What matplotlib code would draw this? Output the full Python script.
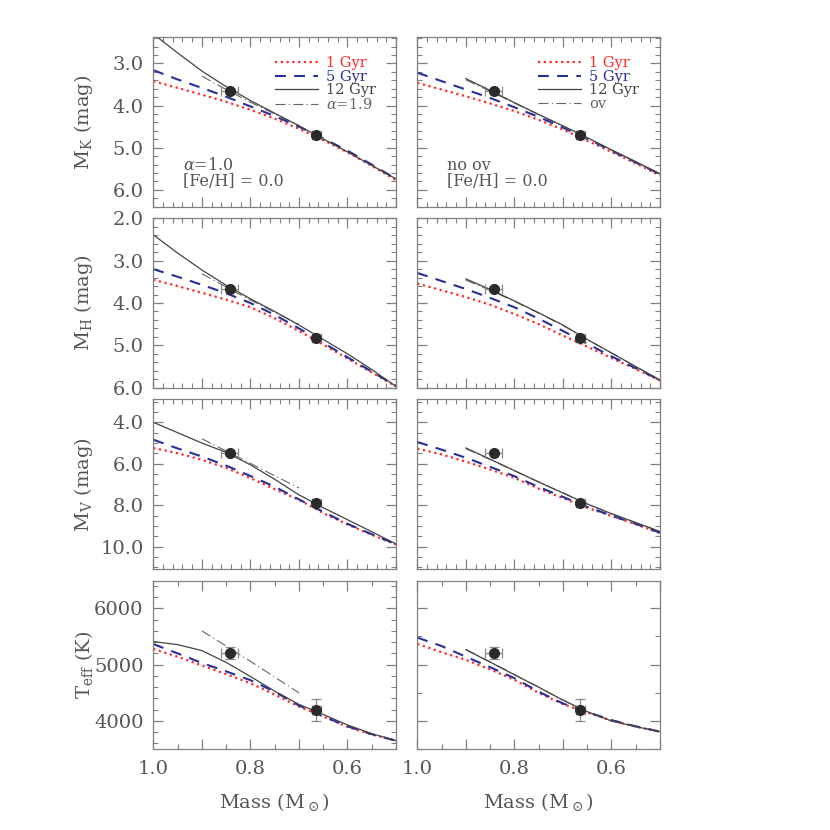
import matplotlib
matplotlib.use("Agg")
import matplotlib.pyplot as plt
from matplotlib.ticker import MultipleLocator, FixedLocator, FuncFormatter, FormatStrFormatter

plt.rcParams['font.family'] = ['DejaVu Serif']
plt.rcParams['mathtext.fontset'] = 'dejavuserif'

# ---------------- data ----------------
mass = [1.00, 0.95, 0.90, 0.85, 0.80, 0.75, 0.70, 0.65, 0.60, 0.55, 0.50]
mass_a19 = [0.90, 0.85, 0.80, 0.75, 0.70]
mass_ov = [0.90, 0.85, 0.80, 0.75, 0.70, 0.65, 0.60, 0.55, 0.50]

# left column (alpha = 1.0)
mk_1 = [3.42, 3.58, 3.74, 3.91, 4.10, 4.31, 4.55, 4.82, 5.11, 5.43, 5.77]
mk_5 = [3.16, 3.38, 3.58, 3.79, 4.02, 4.25, 4.50, 4.78, 5.07, 5.40, 5.74]
mk_12 = [2.30, 2.75, 3.18, 3.55, 3.88, 4.18, 4.48, 4.79, 5.10, 5.42, 5.74]
mk_a19 = [3.30, 3.62, 3.92, 4.20, 4.47]

mh_1 = [3.45, 3.60, 3.76, 3.92, 4.10, 4.36, 4.66, 4.98, 5.31, 5.64, 5.97]
mh_5 = [3.20, 3.38, 3.57, 3.77, 4.00, 4.28, 4.60, 4.94, 5.28, 5.62, 5.96]
mh_12 = [2.39, 2.82, 3.22, 3.58, 3.90, 4.20, 4.52, 4.86, 5.20, 5.57, 5.97]
mh_a19 = [3.31, 3.62, 3.93, 4.22, 4.50]

mv_1 = [5.24, 5.49, 5.81, 6.20, 6.69, 7.23, 7.74, 8.38, 8.93, 9.43, 9.90]
mv_5 = [4.84, 5.26, 5.65, 6.09, 6.59, 7.11, 7.72, 8.32, 8.90, 9.40, 9.88]
mv_12 = [4.00, 4.50, 5.00, 5.45, 6.05, 6.75, 7.50, 8.12, 8.70, 9.28, 9.87]
mv_a19 = [4.79, 5.39, 5.98, 6.58, 7.17]

t_1 = [5280, 5140, 4985, 4830, 4670, 4470, 4255, 4080, 3895, 3760, 3650]
t_5 = [5365, 5200, 5030, 4880, 4725, 4520, 4275, 4085, 3905, 3765, 3650]
t_12 = [5410, 5355, 5250, 5040, 4790, 4530, 4295, 4115, 3930, 3775, 3650]
t_a19 = [5600, 5330, 5060, 4780, 4500]

# right column (no overshoot vs overshoot)
mk_1r = [3.46, 3.62, 3.78, 3.95, 4.13, 4.34, 4.57, 4.83, 5.10, 5.37, 5.66]
mk_5r = [3.22, 3.42, 3.62, 3.82, 4.04, 4.27, 4.52, 4.79, 5.07, 5.35, 5.63]
mk_12r = [3.36, 3.64, 3.93, 4.21, 4.48, 4.76, 5.05, 5.33, 5.62]
mk_ovr = [3.39, 3.66, 3.94, 4.22, 4.49, 4.77, 5.06, 5.34, 5.62]

mh_1r = [3.54, 3.70, 3.86, 4.04, 4.26, 4.50, 4.77, 5.03, 5.30, 5.56, 5.83]
mh_5r = [3.29, 3.48, 3.67, 3.88, 4.10, 4.37, 4.66, 4.96, 5.26, 5.54, 5.82]
mh_12r = [3.43, 3.68, 3.95, 4.23, 4.52, 4.86, 5.18, 5.50, 5.82]
mh_ovr = [3.46, 3.70, 3.96, 4.24, 4.53, 4.86, 5.18, 5.50, 5.82]

mv_1r = [5.27, 5.55, 5.90, 6.28, 6.68, 7.20, 7.66, 8.12, 8.52, 8.92, 9.35]
mv_5r = [4.95, 5.32, 5.71, 6.15, 6.60, 7.12, 7.60, 8.08, 8.50, 8.90, 9.33]
mv_12r = [5.24, 5.78, 6.33, 6.88, 7.41, 7.94, 8.41, 8.84, 9.27]
mv_ovr = [5.27, 5.80, 6.34, 6.88, 7.41, 7.94, 8.41, 8.84, 9.27]

t_1r = [5370, 5220, 5085, 4915, 4730, 4500, 4300, 4150, 4010, 3900, 3810]
t_5r = [5480, 5330, 5140, 4955, 4760, 4520, 4310, 4160, 4015, 3905, 3810]
t_12r = [5265, 5045, 4820, 4600, 4370, 4165, 4000, 3900, 3810]
t_ovr = [5270, 5050, 4825, 4600, 4370, 4165, 4000, 3900, 3810]

# observed binary components
obs_mass = [0.843, 0.664]
obs_mass_err = [0.017, 0.009]
obs_mk = [3.65, 4.70]
obs_mk_err = [0.05, 0.05]
obs_mh = [3.67, 4.83]
obs_mh_err = [0.05, 0.05]
obs_mv = [5.46, 7.91]
obs_mv_err = [0.08, 0.08]
obs_teff = [5200, 4200]
obs_teff_err = [105, 195]

# ---------------- style ----------------
RED = '#ff2a2a'
BLUE = '#28309a'
DARK = '#444444'
GRAY = '#666666'
TXT = '#555555'
AX = '#808080'

fig = plt.figure(figsize=(8.3, 8.3), dpi=100)
W = 830.0
col_x = [153.3, 417.3]
col_w = 242.7
rows = [(37.3, 206.7), (218.3, 387.7), (399.3, 569.0), (580.7, 749.3)]

def mk_ax(ci, ri):
    top, bot = rows[ri]
    return fig.add_axes([col_x[ci] / W, 1 - bot / W, col_w / W, (bot - top) / W])

def style(ax, ylim, ymaj, ymin, fmt, xmin, showx, showy):
    ax.set_xlim(1.0, 0.5)
    ax.set_ylim(*ylim)
    ax.xaxis.set_major_locator(FixedLocator([1.0, 0.9, 0.8, 0.7, 0.6, 0.5]))
    ax.xaxis.set_minor_locator(MultipleLocator(xmin))
    ax.xaxis.set_major_formatter(FuncFormatter(
        lambda v, p: ('%.1f' % v) if round(v * 10) in (10, 8, 6) else ''))
    ax.yaxis.set_major_locator(MultipleLocator(ymaj))
    ax.yaxis.set_minor_locator(MultipleLocator(ymin))
    ax.yaxis.set_major_formatter(FormatStrFormatter(fmt))
    ax.tick_params(which='both', direction='in', top=True, right=True,
                   colors=AX, labelcolor=TXT, labelsize=14)
    ax.tick_params(which='major', length=7, width=0.9)
    ax.tick_params(which='minor', length=3.5, width=0.8)
    ax.tick_params(axis='y', pad=7)
    ax.tick_params(axis='x', pad=8)
    if not showx:
        ax.tick_params(axis='x', labelbottom=False)
    if not showy:
        ax.tick_params(axis='y', labelleft=False)
    for s in ax.spines.values():
        s.set_color(AX)
        s.set_linewidth(0.9)

def models(ax, m, y1, y5, m12, y12, malt, yalt, lab_alt):
    l1, = ax.plot(m, y1, color=RED, lw=1.6, linestyle=(0, (1.0, 1.6)),
                  dash_capstyle='butt', label='1 Gyr')
    l5, = ax.plot(m, y5, color=BLUE, lw=1.5, linestyle=(0, (5.2, 4.0)), label='5 Gyr')
    la, = ax.plot(malt, yalt, color=GRAY, lw=0.8, linestyle=(0, (9, 3, 1, 3)), label=lab_alt)
    l12, = ax.plot(m12, y12, color=DARK, lw=0.9, label='12 Gyr')
    return [l1, l5, l12, la]

def obs(ax, y, yerr):
    ax.errorbar(obs_mass, y, xerr=obs_mass_err, yerr=yerr, fmt='none',
                ecolor='#8a8a8a', elinewidth=0.9, capsize=3.5, capthick=0.9, zorder=4)
    ax.plot(obs_mass, y, 'o', color='#2a2a2a', ms=7, zorder=5)

panels = [
    (mk_1, mk_5, mk_12, mk_a19, mk_1r, mk_5r, mk_12r, mk_ovr, obs_mk, obs_mk_err,
     (6.4, 2.38), 1.0, 0.2, '%.1f', r'M$_{\rm K}$ (mag)', 0.02, 0.2),
    (mh_1, mh_5, mh_12, mh_a19, mh_1r, mh_5r, mh_12r, mh_ovr, obs_mh, obs_mh_err,
     (6.0, 2.0), 1.0, 0.2, '%.1f', r'M$_{\rm H}$ (mag)', 0.02, 0.2),
    (mv_1, mv_5, mv_12, mv_a19, mv_1r, mv_5r, mv_12r, mv_ovr, obs_mv, obs_mv_err,
     (11.08, 2.89), 2.0, 0.5, '%.1f', r'M$_{\rm V}$ (mag)', 0.02, 0.5),
    (t_1, t_5, t_12, t_a19, t_1r, t_5r, t_12r, t_ovr, obs_teff, obs_teff_err,
     (3497, 6490), 1000, 200, '%d', r'T$_{\rm eff}$ (K)', 0.05, 500),
]

for ri, p in enumerate(panels):
    (y1, y5, y12, ya, y1r, y5r, y12r, yov, yo, yoe, ylim, ymaj, ymin, fmt, ylab, xmin, ymin_r) = p
    last = ri == 3
    axl = mk_ax(0, ri)
    style(axl, ylim, ymaj, ymin, fmt, xmin, last, True)
    hl = models(axl, mass, y1, y5, mass, y12, mass_a19, ya, r'$\alpha$=1.9')
    obs(axl, yo, yoe)
    axl.set_ylabel(ylab, fontsize=14, color=TXT)
    axl.yaxis.set_label_coords(-0.24, 0.5)

    axr = mk_ax(1, ri)
    style(axr, ylim, ymaj, ymin_r, fmt, xmin, last, False)
    hr = models(axr, mass, y1r, y5r, mass_ov, y12r, mass_ov, yov, 'ov')
    obs(axr, yo, yoe)

    if last:
        for a in (axl, axr):
            a.set_xlabel(r'Mass (M$_\odot$)', fontsize=14, color=TXT)
            a.xaxis.set_label_coords(0.5, -0.25)

    if ri == 0:
        for a, h, bx, tx1 in ((axl, hl, 0.501, r'$\alpha$=1.0'), (axr, hr, 0.497, 'no ov')):
            a.legend(handles=h, loc='upper left', bbox_to_anchor=(bx, 0.888),
                     frameon=False, fontsize=10.5, handlelength=2.95,
                     handletextpad=0.57, labelspacing=-0.03, borderpad=0,
                     borderaxespad=0,
                     labelcolor=[RED, BLUE, DARK, GRAY])
            a.text(0.122, 0.246, tx1, transform=a.transAxes, fontsize=11.5,
                   color=TXT, va='center', ha='left')
            a.text(0.122, 0.146, '[Fe/H] = 0.0', transform=a.transAxes, fontsize=11.5,
                   color=TXT, va='center', ha='left')

fig.savefig('out.png', dpi=100)
